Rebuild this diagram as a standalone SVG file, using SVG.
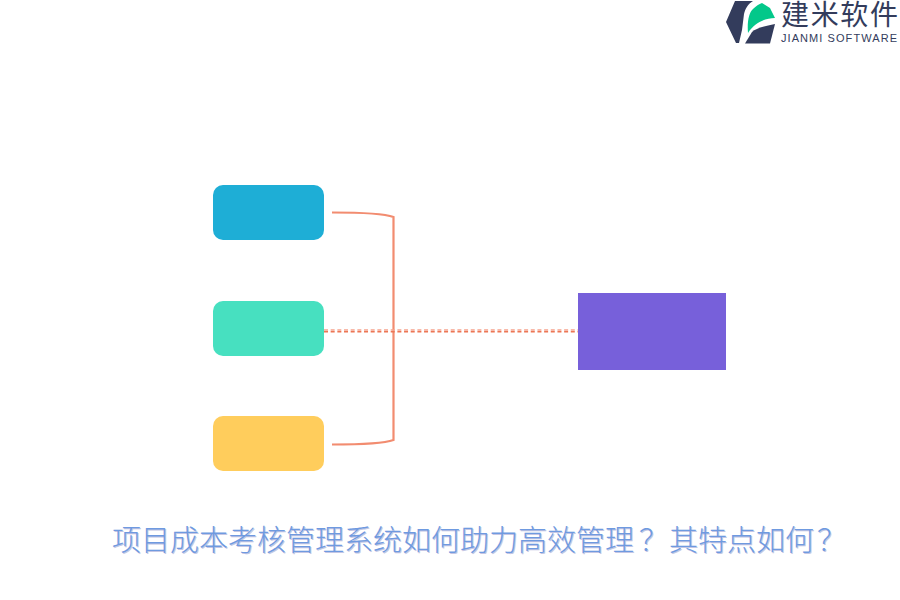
<svg xmlns="http://www.w3.org/2000/svg" width="900" height="600" viewBox="0 0 900 600">
<style>
.cjk{font-family:"Noto Sans CJK SC","Liberation Sans",sans-serif}
.edge{fill:none;stroke:#f28c70;stroke-width:2.2}
.dash{fill:none;stroke-width:1.6;stroke-dasharray:4 2.67}
.title{font-size:29px;font-weight:300}
</style>
<rect width="900" height="600" fill="#ffffff"/>
<g id="connectors">
<path class="edge" d="M332 212.500C362 212.500 384 213.500 393.500 217V440C384 443.500 362 444.500 332 444.500"/>
<line class="dash" x1="324" y1="330" x2="578" y2="330" stroke="#f6a48e"/>
<line class="dash" x1="324" y1="331.700" x2="578" y2="331.700" stroke="#ec7655"/>
</g>
<g id="node-blue"><rect x="213" y="185" width="111" height="55" rx="10" fill="#1eaed6"/></g>
<g id="node-green"><rect x="213" y="301" width="111" height="55" rx="10" fill="#47e0c0"/></g>
<g id="node-yellow"><rect x="213" y="416" width="111" height="55" rx="10" fill="#ffcd5c"/></g>
<g id="node-purple"><rect x="578" y="293" width="148" height="77" fill="#7760da"/></g>
<g id="logo">
<path d="M735 1H753C748 4 745 9 744 14L742 30L739 43H736L726 22Z" fill="#333c5c"/>
<path d="M745 43.500L752 32C756 28 765 26 775 24L770 43.500Z" fill="#333c5c"/>
<path d="M748 33C747 22 749 12 753 9C756 6 759 4 762 3L770 8L775 18C766 18 755 22 748 33Z" fill="#03c88a"/>
<text class="cjk" x="781" y="25" font-size="28" fill="#333c5c" textLength="117">建米软件</text>
<text x="781" y="42" font-family="Liberation Sans,sans-serif" font-size="11" fill="#333c5c" textLength="116">JIANMI SOFTWARE</text>
</g>
<g id="title">
<text class="cjk title" x="113" y="552" fill="#c4c6e4">项目成本考核管理系统如何助力高效管理<tspan dx="5">&#xFF1F;</tspan><tspan dx="1">其特点如何</tspan><tspan dx="3">&#xFF1F;</tspan></text>
<text class="cjk title" x="112" y="551" fill="#6f9ae0">项目成本考核管理系统如何助力高效管理<tspan dx="5">&#xFF1F;</tspan><tspan dx="1">其特点如何</tspan><tspan dx="3">&#xFF1F;</tspan></text>
</g>
</svg>
